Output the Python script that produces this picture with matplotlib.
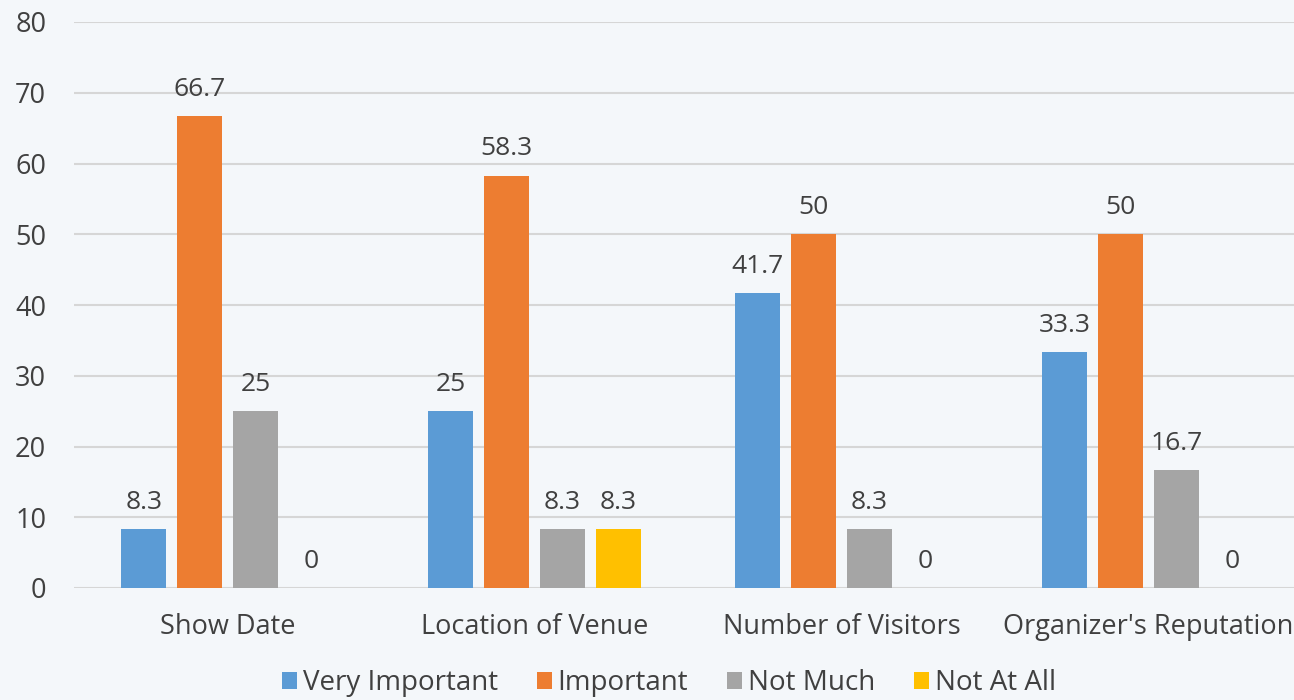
import numpy as np
import matplotlib.pyplot as plt

categories = ["Show Date", "Location of Venue", "Number of Visitors", "Organizer's Reputation"]
series_names = ["Very Important", "Important", "Not Much", "Not At All"]
very_important = [8.3, 25, 41.7, 33.3]
important = [66.7, 58.3, 50, 50]
not_much = [25, 8.3, 8.3, 16.7]
not_at_all = [0, 8.3, 0, 0]
colors = ["#5B9BD5", "#ED7D31", "#A5A5A5", "#FFC000"]

plt.rcParams['font.family'] = ['Open Sans', 'DejaVu Sans']
txt = "#404040"

fig = plt.figure(figsize=(12.94, 7), dpi=100)
fig.patch.set_facecolor("#f4f7fa")
ax = fig.add_axes([74/1294, 1-588/700, 1228/1294, 566/700])
ax.set_facecolor("none")

x = np.arange(len(categories))
width = 0.147
step = 0.182
all_series = [very_important, important, not_much, not_at_all]
for i, vals in enumerate(all_series):
    pos = x + (i - 1.5) * step
    bars = ax.bar(pos, vals, width, color=colors[i], label=series_names[i], zorder=3)
    for b, v in zip(bars, vals):
        ax.text(b.get_x() + b.get_width()/2, v + 2.0, f"{v:g}", ha="center", va="bottom",
                fontsize=19, color=txt)

ax.set_xlim(-0.5, 3.5)
ax.set_ylim(0, 80)
ax.set_yticks(range(0, 81, 10))
ax.yaxis.grid(True, color="#d6d6d6", linewidth=1.5, zorder=0)
ax.set_axisbelow(True)
for s in ax.spines.values():
    s.set_visible(False)
ax.tick_params(axis="both", length=0, labelsize=19.5, colors=txt)
ax.tick_params(axis="y", pad=20)
ax.tick_params(axis="x", pad=18)
ax.set_xticks(x)
ax.set_xticklabels(categories)

leg = fig.legend(loc="center", bbox_to_anchor=(669/1294, 1-683/700), ncol=4, frameon=False,
                 fontsize=20, handlelength=0.55, handleheight=0.55, handletextpad=0.2,
                 columnspacing=1.4, labelcolor=txt)

fig.savefig("out.png", dpi=100, facecolor=fig.get_facecolor())
